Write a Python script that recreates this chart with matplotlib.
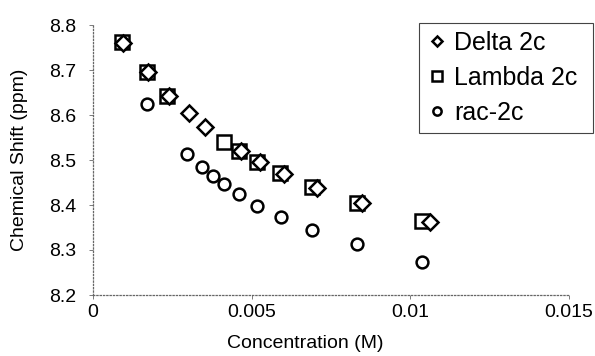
import matplotlib.pyplot as plt

plt.rcParams['font.family'] = ['Liberation Sans', 'DejaVu Sans']

# Chemical shift vs concentration
delta_conc = [0.00094, 0.00172, 0.00240, 0.00303, 0.00354, 0.00466,
              0.00526, 0.00602, 0.00707, 0.00847, 0.01062]
delta_shift = [8.761, 8.695, 8.643, 8.605, 8.573, 8.520,
               8.495, 8.470, 8.438, 8.405, 8.363]

lambda_conc = [0.00092, 0.00171, 0.00234, 0.00413, 0.00461, 0.00516,
               0.00589, 0.00691, 0.00831, 0.01036]
lambda_shift = [8.762, 8.695, 8.642, 8.541, 8.521, 8.496,
                8.472, 8.439, 8.404, 8.365]

rac_conc = [0.00171, 0.00295, 0.00345, 0.00377, 0.00413, 0.00461,
            0.00518, 0.00592, 0.00691, 0.00831, 0.01038]
rac_shift = [8.625, 8.513, 8.485, 8.464, 8.446, 8.424,
             8.398, 8.374, 8.344, 8.313, 8.274]

xticks = [0, 0.005, 0.01, 0.015]
xticklabels = ['0', '0.005', '0.01', '0.015']
yticks = [8.2, 8.3, 8.4, 8.5, 8.6, 8.7, 8.8]

fig = plt.figure(figsize=(5.95, 3.56), dpi=100)
ax = fig.add_axes([93 / 595, 61 / 356, 476 / 595, 270 / 356])

mk = dict(linestyle='none', markerfacecolor='white', markeredgecolor='black',
          markeredgewidth=1.8)
l_lam, = ax.plot(lambda_conc, lambda_shift, marker='s', markersize=9.5,
                 label='Lambda 2c', zorder=3, **mk)
l_del, = ax.plot(delta_conc, delta_shift, marker='D', markersize=8,
                 label='Delta 2c', zorder=4, **mk)
l_rac, = ax.plot(rac_conc, rac_shift, marker='o', markersize=8.5,
                 label='rac-2c', zorder=3, **mk)

ax.set_xlim(0, 0.015)
ax.set_ylim(8.2, 8.8)
ax.set_xticks(xticks)
ax.set_xticklabels(xticklabels)
ax.set_yticks(yticks)
ax.set_yticklabels([f'{v:.1f}' for v in yticks])
ax.tick_params(labelsize=14, direction='out', length=3, width=0.6,
               color='#666666')
ax.tick_params(axis='y', pad=9)

for s in ['top', 'right']:
    ax.spines[s].set_visible(False)
for s in ['left', 'bottom']:
    ax.spines[s].set_linestyle(':')
    ax.spines[s].set_color('#666666')
    ax.spines[s].set_linewidth(0.9)

ax.set_xlabel('Concentration (M)', fontsize=14)
ax.set_ylabel('Chemical Shift (ppm)', fontsize=14)
ax.xaxis.set_label_coords((305 - 93) / 476, -0.15)
ax.yaxis.set_label_coords((28 - 93) / 476, 0.5)

leg = fig.legend(handles=[l_del, l_lam, l_rac],
                 loc='upper left',
                 bbox_to_anchor=(419 / 595, 1 - 143 / 356, 174 / 595, 120 / 356),
                 mode='expand', fontsize=18, markerscale=0.7,
                 handlelength=0.8, handletextpad=0.3, borderpad=0.3,
                 borderaxespad=0, labelspacing=0.45, fancybox=False,
                 framealpha=1)
leg.get_frame().set_edgecolor('#444444')
leg.get_frame().set_linewidth(0.8)

plt.savefig('out.png', dpi=100)
